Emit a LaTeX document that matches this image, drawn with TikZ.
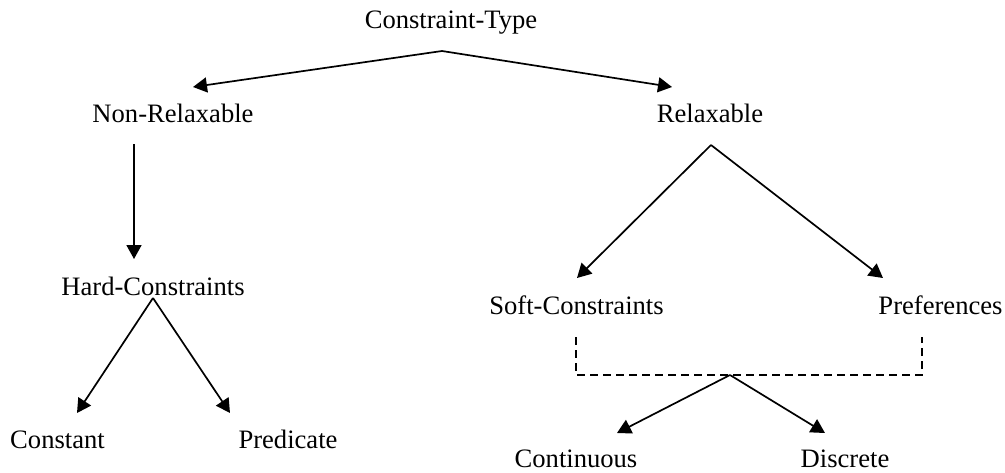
\documentclass[tikz,border=0pt]{standalone}
\usepackage{fontspec}
\setmainfont{Liberation Serif}
\usetikzlibrary{arrows.meta}
\begin{document}
\begin{tikzpicture}[x=1pt,y=-1pt,
  label/.style={anchor=base,inner sep=0pt,font=\fontsize{26.6}{30}\selectfont},
  link/.style={line width=1.7pt,-{Triangle[length=14pt,width=15pt]}},
  group/.style={line width=1.4pt,dash pattern=on 8pt off 5pt}]
\useasboundingbox (0,0) rectangle (1005,472);

% labels
\node[label] (ct) at (451,28) {Constraint-Type};
\node[label] (nr) at (173,122) {Non-Relaxable};
\node[label] (rl) at (710,122) {Relaxable};
\node[label] (hc) at (153,295) {Hard-Constraints};
\node[label] (sc) at (576.5,314) {Soft-Constraints};
\node[label] (pf) at (940.5,314) {Preferences};
\node[label] (co) at (57.5,448) {Constant};
\node[label] (pr) at (288,448) {Predicate};
\node[label] (cn) at (576,467) {Continuous};
\node[label] (ds) at (845,467) {Discrete};

% branch points and arrow ends
\coordinate (ctb) at (442,51);
\coordinate (nrt) at (193,87);
\coordinate (rlt) at (672,87);
\coordinate (nrb) at (134,144);
\coordinate (hct) at (134,259);
\coordinate (hcb) at (153,298);
\coordinate (cot) at (77,413);
\coordinate (prt) at (230,413);
\coordinate (rlb) at (711,145);
\coordinate (sct) at (577,278);
\coordinate (pft) at (883,278);
\coordinate (scb) at (576,337);
\coordinate (pfb) at (922,337);
\coordinate (jn) at (730,375);
\coordinate (cnt) at (617,433);
\coordinate (dst) at (825,433);

% top level
\draw[link] (ctb) -- (nrt);
\draw[link] (ctb) -- (rlt);
% non-relaxable branch
\draw[link] (nrb) -- (hct);
\draw[link] (hcb) -- (cot);
\draw[link] (hcb) -- (prt);
% relaxable branch
\draw[link] (rlb) -- (sct);
\draw[link] (rlb) -- (pft);
% shared sub-types
\draw[group] (scb) -- (scb |- jn) -- (pfb |- jn) -- (pfb);
\draw[link] (jn) -- (cnt);
\draw[link] (jn) -- (dst);
\end{tikzpicture}
\end{document}
